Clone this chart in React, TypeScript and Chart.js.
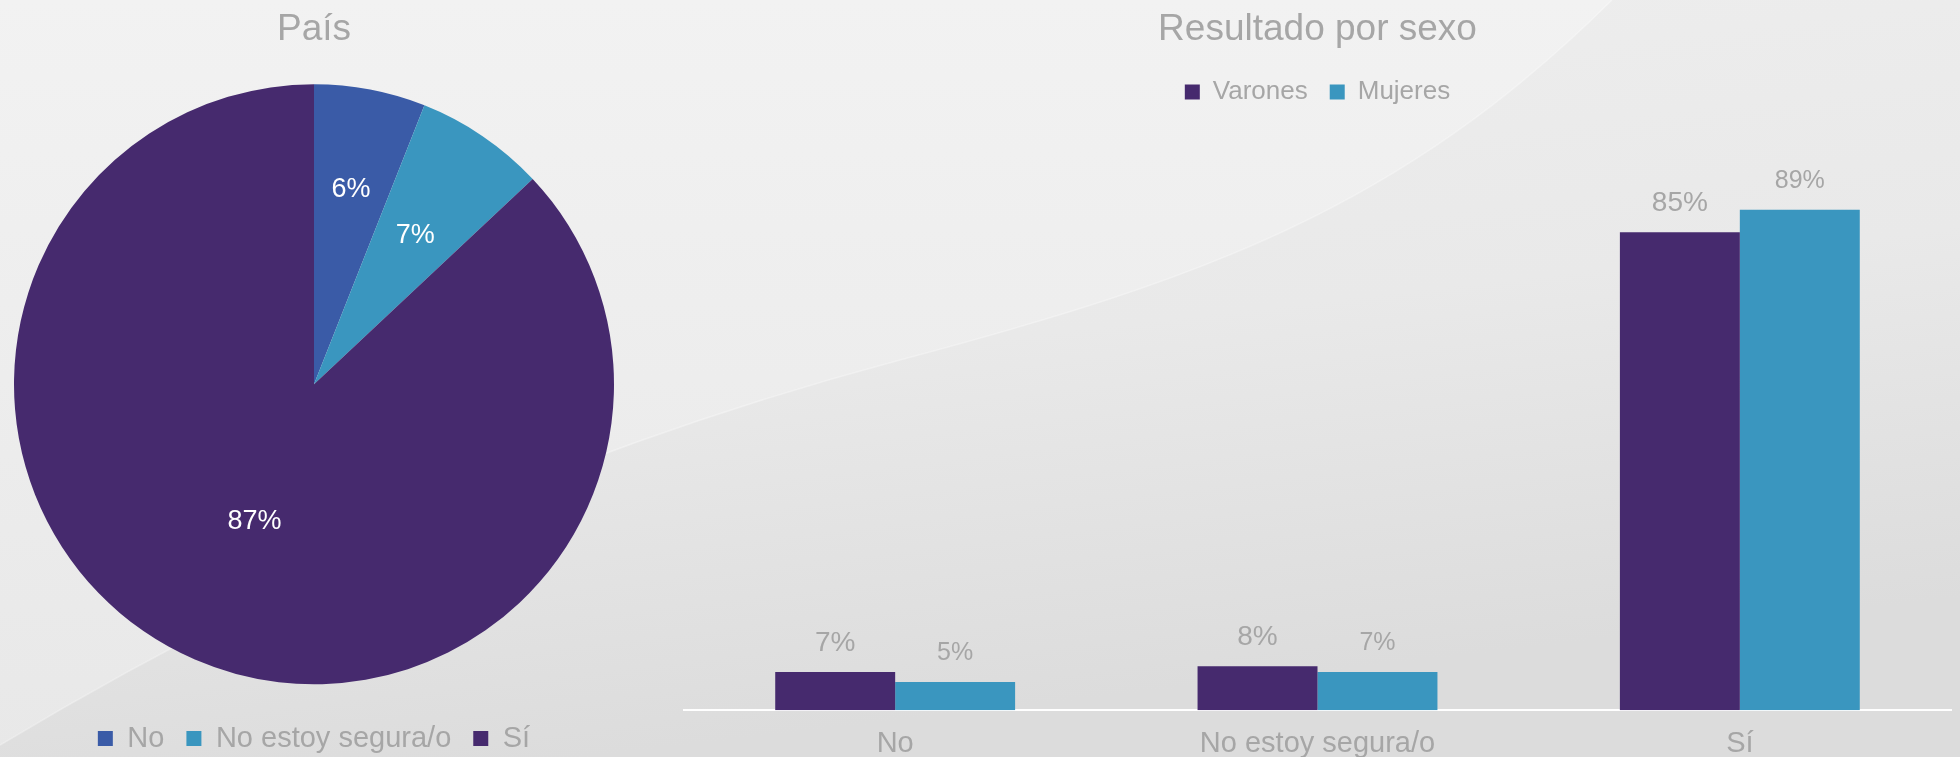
import React, { useEffect, useRef } from 'react';
import { Chart, registerables } from 'chart.js';

Chart.register(...registerables);

// ---------- data ----------
const pieTitle = 'País';
const pieLabels = ['No', 'No estoy segura/o', 'Sí'];
const pieValues = [6, 7, 87];
const pieColors = ['#3A5BA7', '#3A96BF', '#462A6E'];
const pieLabelRadius = [0.66, 0.6, 0.5];

const barTitle = 'Resultado por sexo';
const barCategories = ['No', 'No estoy segura/o', 'Sí'];
const seriesNames = ['Varones', 'Mujeres'];
const varonesValues = [6.8, 7.8, 85];
const mujeresValues = [5, 6.8, 89];
const seriesColors = ['#462A6E', '#3A96BF'];
const barLabelSizes = [28, 25];

const FONT = "'Liberation Sans', Arial, sans-serif";
const GREY = '#A6A6A6';

const pieLabelPlugin = {
  id: 'pieLabels',
  afterDatasetsDraw(chart: any) {
    const ctx = chart.ctx;
    const meta = chart.getDatasetMeta(0);
    const values = chart.data.datasets[0].data as number[];
    ctx.save();
    ctx.fillStyle = '#ffffff';
    ctx.font = `27px ${FONT}`;
    ctx.textAlign = 'center';
    ctx.textBaseline = 'middle';
    meta.data.forEach((arc: any, i: number) => {
      const p = arc.getProps(['x', 'y', 'startAngle', 'endAngle', 'outerRadius'], true);
      const mid = (p.startAngle + p.endAngle) / 2;
      const r = p.outerRadius * pieLabelRadius[i];
      ctx.fillText(`${values[i]}%`, p.x + Math.cos(mid) * r, p.y + Math.sin(mid) * r);
    });
    ctx.restore();
  },
};

const barLabelPlugin = {
  id: 'barLabels',
  afterDatasetsDraw(chart: any) {
    const ctx = chart.ctx;
    ctx.save();
    ctx.fillStyle = GREY;
    ctx.textAlign = 'center';
    ctx.textBaseline = 'middle';
    chart.data.datasets.forEach((ds: any, i: number) => {
      const meta = chart.getDatasetMeta(i);
      ctx.font = `${barLabelSizes[i]}px ${FONT}`;
      meta.data.forEach((bar: any, j: number) => {
        const p = bar.getProps(['x', 'y'], true);
        ctx.fillText(`${Math.round(ds.data[j])}%`, p.x, p.y - 29);
      });
    });
    ctx.restore();
  },
};

function PieChart() {
  const ref = useRef<HTMLCanvasElement>(null);
  useEffect(() => {
    const chart = new Chart(ref.current as HTMLCanvasElement, {
      type: 'pie',
      data: {
        labels: pieLabels,
        datasets: [
          {
            data: pieValues,
            backgroundColor: pieColors,
            borderWidth: 0,
            radius: 300,
          } as any,
        ],
      },
      options: {
        animation: false,
        responsive: false,
        layout: { padding: { left: 14, right: 14, top: 0, bottom: 0 } },
        plugins: {
          title: {
            display: true,
            text: pieTitle,
            color: GREY,
            font: { size: 37, weight: 'normal', family: FONT },
            padding: { top: 7.8, bottom: 14.3 },
          },
          legend: {
            position: 'bottom',
            labels: {
              boxWidth: 15,
              boxHeight: 15,
              padding: 22,
              color: GREY,
              font: { size: 29, family: FONT },
            },
          },
          tooltip: { enabled: false },
        },
      },
      plugins: [pieLabelPlugin],
    });
    return () => chart.destroy();
  }, []);
  return (
    <canvas
      ref={ref}
      width={628}
      height={763}
      style={{ position: 'absolute', left: 0, top: 0, width: 628, height: 763 }}
    />
  );
}

function BarChart() {
  const ref = useRef<HTMLCanvasElement>(null);
  useEffect(() => {
    const chart = new Chart(ref.current as HTMLCanvasElement, {
      type: 'bar',
      data: {
        labels: barCategories,
        datasets: [
          {
            label: seriesNames[0],
            data: varonesValues,
            backgroundColor: seriesColors[0],
            categoryPercentage: 0.568,
            barPercentage: 1,
          },
          {
            label: seriesNames[1],
            data: mujeresValues,
            backgroundColor: seriesColors[1],
            categoryPercentage: 0.568,
            barPercentage: 1,
          },
        ],
      },
      options: {
        animation: false,
        responsive: false,
        layout: { padding: { left: 24, right: 9, top: 0, bottom: 0 } },
        scales: {
          x: {
            grid: { display: false, drawTicks: false },
            border: { display: true, color: '#ffffff', width: 2 },
            ticks: { color: GREY, font: { size: 29, family: FONT }, padding: 16 },
          },
          y: {
            display: false,
            min: 0,
            max: 100,
          },
        },
        plugins: {
          title: {
            display: true,
            text: barTitle,
            color: GREY,
            font: { size: 37, weight: 'normal', family: FONT },
            padding: { top: 7.8, bottom: 4.8 },
          },
          subtitle: {
            display: true,
            text: '',
            font: { size: 10 },
            padding: { top: 21, bottom: 0 },
          },
          legend: {
            position: 'top',
            weight: 1800,
            labels: {
              boxWidth: 15,
              boxHeight: 15,
              padding: 22,
              color: GREY,
              font: { size: 26, family: FONT },
            },
          } as any,
          tooltip: { enabled: false },
        },
      },
      plugins: [barLabelPlugin],
    });
    return () => chart.destroy();
  }, []);
  return (
    <canvas
      ref={ref}
      width={1300}
      height={777}
      style={{ position: 'absolute', left: 660, top: 0, width: 1300, height: 777 }}
    />
  );
}

function Background() {
  const curve = 'M0,745 C300,565 600,440 900,360 S1400,210 1612,0';
  return (
    <svg
      width={1960}
      height={757}
      style={{ position: 'absolute', left: 0, top: 0 }}
    >
      <defs>
        <linearGradient id="bgBase" x1="0" y1="0" x2="0" y2="1">
          <stop offset="0" stopColor="#f2f2f2" />
          <stop offset="1" stopColor="#e8e8e8" />
        </linearGradient>
        <linearGradient id="bgDark" x1="0" y1="0" x2="0.3" y2="1">
          <stop offset="0" stopColor="#efefef" />
          <stop offset="0.55" stopColor="#e9e9e9" />
          <stop offset="1" stopColor="#dcdcdc" />
        </linearGradient>
      </defs>
      <rect x={0} y={0} width={1960} height={757} fill="url(#bgBase)" />
      <path d={`${curve} L1960,0 L1960,757 L0,757 Z`} fill="url(#bgDark)" />
      <path d={curve} fill="none" stroke="#ffffff" strokeOpacity={0.3} strokeWidth={1.5} />
    </svg>
  );
}

export default function App() {
  useEffect(() => {
    Chart.defaults.font.family = FONT;
  }, []);
  return (
    <div
      style={{
        position: 'fixed',
        left: 0,
        top: 0,
        width: 1960,
        height: 757,
        overflow: 'hidden',
        background: '#efefef',
      }}
    >
      <Background />
      <PieChart />
      <BarChart />
    </div>
  );
}
